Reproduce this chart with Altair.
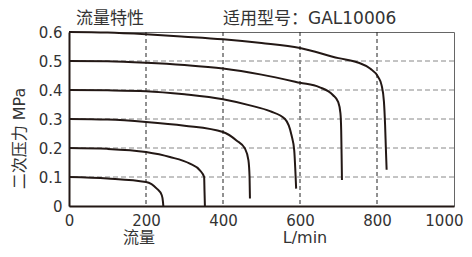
import altair as alt
import pandas as pd

# Flow (L/min) and secondary pressure (MPa)
flow_06 = [0, 100, 200, 300, 400, 500, 600, 700, 750, 782, 803, 812, 818, 821, 823, 825]
pres_06 = [0.6, 0.598, 0.592, 0.584, 0.575, 0.562, 0.545, 0.51, 0.495, 0.474, 0.445, 0.416, 0.36, 0.28, 0.2, 0.125]

flow_05 = [0, 100, 200, 300, 400, 500, 600, 650, 686, 699, 705, 707, 708, 709]
pres_05 = [0.5, 0.499, 0.494, 0.486, 0.474, 0.453, 0.425, 0.41, 0.382, 0.359, 0.32, 0.26, 0.18, 0.09]

flow_04 = [0, 100, 200, 300, 400, 470, 522, 561, 578, 585, 588, 590]
pres_04 = [0.4, 0.399, 0.396, 0.385, 0.368, 0.347, 0.327, 0.3, 0.244, 0.192, 0.12, 0.06]

flow_03 = [0, 100, 200, 300, 400, 435, 457, 466, 469, 470]
pres_03 = [0.3, 0.298, 0.29, 0.277, 0.255, 0.226, 0.198, 0.158, 0.1, 0.026]

flow_02 = [0, 100, 200, 262, 314, 340, 351, 352, 353]
pres_02 = [0.2, 0.197, 0.186, 0.169, 0.146, 0.123, 0.1, 0.05, 0.0]

flow_01 = [0, 100, 200, 228, 241, 244, 245]
pres_01 = [0.1, 0.095, 0.083, 0.06, 0.037, 0.015, 0.0]

x_ticks = [0, 200, 400, 600, 800, 1000]
y_ticks = [0, 0.1, 0.2, 0.3, 0.4, 0.5, 0.6]
x_grid = [200, 400, 600, 800]
y_grid = [0.1, 0.2, 0.3, 0.4, 0.5]

curves = [("0.6", flow_06, pres_06), ("0.5", flow_05, pres_05), ("0.4", flow_04, pres_04),
          ("0.3", flow_03, pres_03), ("0.2", flow_02, pres_02), ("0.1", flow_01, pres_01)]
rows = []
for name, fl, pr in curves:
    for i, (f, p) in enumerate(zip(fl, pr)):
        rows.append({"curve": name, "flow": f, "p": p, "i": i})
df = pd.DataFrame(rows)

LATIN = "DejaVu Sans"
MIXED = "DejaVu Sans, Noto Sans CJK SC"
TXT = "#333333"

xscale = alt.Scale(domain=[0, 1000], nice=False, zero=False)
yscale = alt.Scale(domain=[0, 0.6], nice=False, zero=False)

xaxis = alt.Axis(values=x_ticks, title=None, grid=False, ticks=False,
                 domainColor="#231815", domainWidth=2, format="d",
                 labelFont=LATIN, labelFontSize=15, labelColor=TXT,
                 labelPadding=7, labelFlush=False, labelOverlap=False,
                 labelAlign={"condition": {"test": "datum.value == 1000", "value": "right"},
                             "value": "center"},
                 labelOffset={"condition": {"test": "datum.value == 1000", "value": 9},
                              "value": 0})
yaxis = alt.Axis(values=y_ticks, grid=False, ticks=False,
                 domainColor="#231815", domainWidth=2,
                 labelFont=LATIN, labelFontSize=15, labelColor=TXT,
                 labelPadding=7, labelFlush=False, labelOverlap=False,
                 labelExpr="datum.value == 0 ? '0' : format(datum.value, '.1f')",
                 title="二次压力 MPa", titleFont=MIXED, titleFontSize=16,
                 titleFontWeight="normal", titleColor=TXT, titleAngle=270,
                 titleAlign="center", titleBaseline="middle",
                 titleX=-50, titleY=106)

xgrid = alt.Chart(pd.DataFrame({"g": x_grid})).mark_rule(
    color="#222222", strokeWidth=1, strokeDash=[4, 3]
).encode(x=alt.X("g:Q", scale=xscale, axis=xaxis))

ygrid = alt.Chart(pd.DataFrame({"g": y_grid})).mark_rule(
    color="#888888", strokeWidth=1, strokeDash=[5, 3]
).encode(y=alt.Y("g:Q", scale=yscale, axis=yaxis))

lines = alt.Chart(df).mark_line(
    color="#231815", strokeWidth=2, interpolate="monotone"
).encode(
    x=alt.X("flow:Q", scale=xscale, axis=xaxis),
    y=alt.Y("p:Q", scale=yscale, axis=yaxis),
    detail="curve:N",
    order="i:Q",
)


def label(text, x, y, size=17, align="center"):
    return alt.Chart(pd.DataFrame({"t": [text]})).mark_text(
        font=MIXED, fontSize=size, color=TXT, align=align, baseline="middle"
    ).encode(text="t:N", x=alt.value(x), y=alt.value(y))


chart = alt.layer(
    xgrid, ygrid, lines,
    label("流量特性", 41, -13),
    label("适用型号：GAL10006", 154, -13, align="left"),
    label("流量", 70, 206, size=16),
    label("L/min", 236, 206, size=16),
).properties(
    width=385, height=174,
    padding={"left": 61, "top": 24, "right": 10, "bottom": 42},
    autosize=alt.AutoSizeParams(type="none"),
).configure_view(stroke="#666666", strokeWidth=1)

chart.save("out.html", embed_options={"renderer": "svg", "actions": False})
